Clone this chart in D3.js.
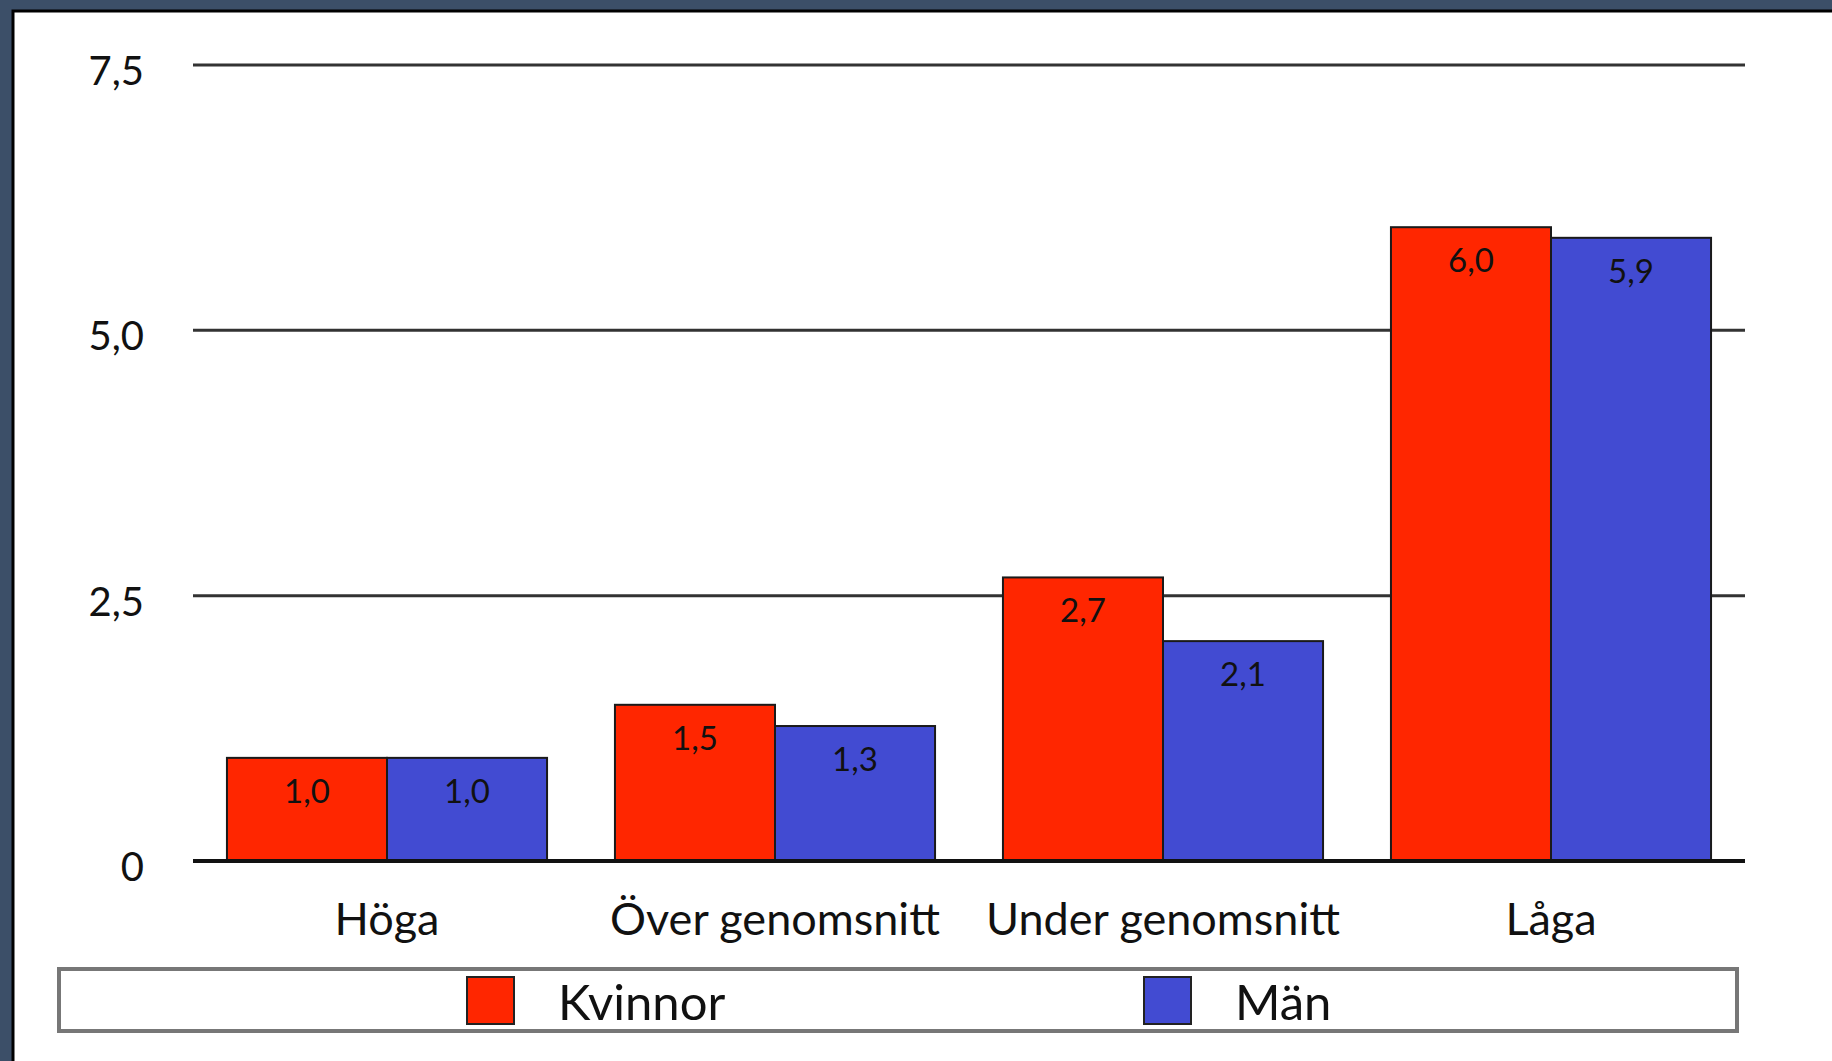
<!DOCTYPE html>
<html>
<head>
<meta charset="utf-8">
<script src="https://cdn.jsdelivr.net/npm/d3@7"></script>
<style>
  html, body { margin: 0; padding: 0; background: #3c4f68; overflow: hidden; }
  svg { display: block; }
  text { font-family: "Gill Sans", "Gill Sans MT", Lato, sans-serif; fill: #111; }
</style>
</head>
<body>
<div id="chart"></div>
<script>
var categories = ["Höga", "Över genomsnitt", "Under genomsnitt", "Låga"];
var series = ["Kvinnor", "Män"];
var kvinnor = [1.0, 1.5, 2.7, 6.0];
var man = [1.0, 1.3, 2.1, 5.9];
var yTicks = [0, 2.5, 5, 7.5];
var colors = ["#ff2600", "#424bd2"];

(function(){
    var width = 1832;
    var height = 1061;

    var svg = d3.select("#chart")
        .append("svg")
        .attr("width", width)
        .attr("height", height)

    // white panel with black top/left edge
    svg.append("rect")
        .attr("x", 13)
        .attr("y", 11)
        .attr("width", width)
        .attr("height", height)
        .attr("fill", "#fff")
        .attr("stroke", "#000")
        .attr("stroke-width", 3)

    var x = d3.scaleBand()
        .domain(categories)
        .range([193, 1745])
        .paddingInner(0.175)
        .paddingOuter(0.0875)

    var xInner = d3.scaleBand()
        .domain(series)
        .range([0, x.bandwidth()])

    var y = d3.scaleLinear()
        .domain([0, 7.5])
        .range([861, 65])

    var fmt = function(v) {
        return v === 0 ? "0" : d3.format(".1f")(v).replace(".", ",")
    }

    // gridlines
    svg.append("g")
        .selectAll("line")
        .data(yTicks.filter(function(d){ return d > 0 }))
        .enter().append("line")
        .attr("x1", 193)
        .attr("x2", 1745)
        .attr("y1", function(d){ return y(d) })
        .attr("y2", function(d){ return y(d) })
        .attr("stroke", "#333")
        .attr("stroke-width", 3)

    // y tick labels
    svg.append("g")
        .selectAll("text")
        .data(yTicks)
        .enter().append("text")
        .attr("x", 144)
        .attr("y", function(d){ return y(d) + 20 })
        .attr("text-anchor", "end")
        .attr("font-size", 40)
        .text(fmt)

    var rows = categories.map(function(c, i){
        return { cat: c, values: [kvinnor[i], man[i]] }
    })

    var groups = svg.selectAll(".grp")
        .data(rows)
        .enter().append("g")
        .attr("class", "grp")
        .attr("transform", function(d){ return "translate(" + x(d.cat) + ",0)" })

    var off = 3 // bar tops sit a hair under the value line in the original

    groups.selectAll("rect")
        .data(function(d){ return d.values.map(function(v, j){ return { s: series[j], v: v, j: j } }) })
        .enter().append("rect")
        .attr("x", function(d){ return xInner(d.s) })
        .attr("y", function(d){ return y(d.v) + off })
        .attr("width", xInner.bandwidth())
        .attr("height", function(d){ return y(0) - y(d.v) - off })
        .attr("fill", function(d){ return colors[d.j] })
        .attr("stroke", "#1a1a1a")
        .attr("stroke-width", 2)

    groups.selectAll("text")
        .data(function(d){ return d.values.map(function(v, j){ return { s: series[j], v: v } }) })
        .enter().append("text")
        .attr("x", function(d){ return xInner(d.s) + xInner.bandwidth() / 2 })
        .attr("y", function(d){ return y(d.v) + off + 45 })
        .attr("text-anchor", "middle")
        .attr("font-size", 33)
        .text(function(d){ return fmt(d.v) })

    // baseline
    svg.append("line")
        .attr("x1", 193)
        .attr("x2", 1745)
        .attr("y1", y(0))
        .attr("y2", y(0))
        .attr("stroke", "#111")
        .attr("stroke-width", 4)

    // category labels
    svg.append("g")
        .selectAll("text")
        .data(categories)
        .enter().append("text")
        .attr("x", function(d){ return x(d) + x.bandwidth() / 2 })
        .attr("y", 935)
        .attr("text-anchor", "middle")
        .attr("font-size", 45)
        .text(function(d){ return d })

    // legend
    svg.append("rect")
        .attr("x", 59)
        .attr("y", 969)
        .attr("width", 1678)
        .attr("height", 62)
        .attr("fill", "#fff")
        .attr("stroke", "#777")
        .attr("stroke-width", 4)

    var legX = d3.scalePoint()
        .domain(series)
        .range([467, 1144])

    var leg = svg.selectAll(".leg")
        .data(series)
        .enter().append("g")
        .attr("class", "leg")
        .attr("transform", function(d){ return "translate(" + legX(d) + ",0)" })

    leg.append("rect")
        .attr("x", 0)
        .attr("y", 977)
        .attr("width", 47)
        .attr("height", 47)
        .attr("fill", function(d, i){ return colors[i] })
        .attr("stroke", "#222")
        .attr("stroke-width", 2)

    leg.append("text")
        .attr("x", 91)
        .attr("y", 1020)
        .attr("font-size", 49)
        .text(function(d){ return d })
})();
</script>
</body>
</html>
